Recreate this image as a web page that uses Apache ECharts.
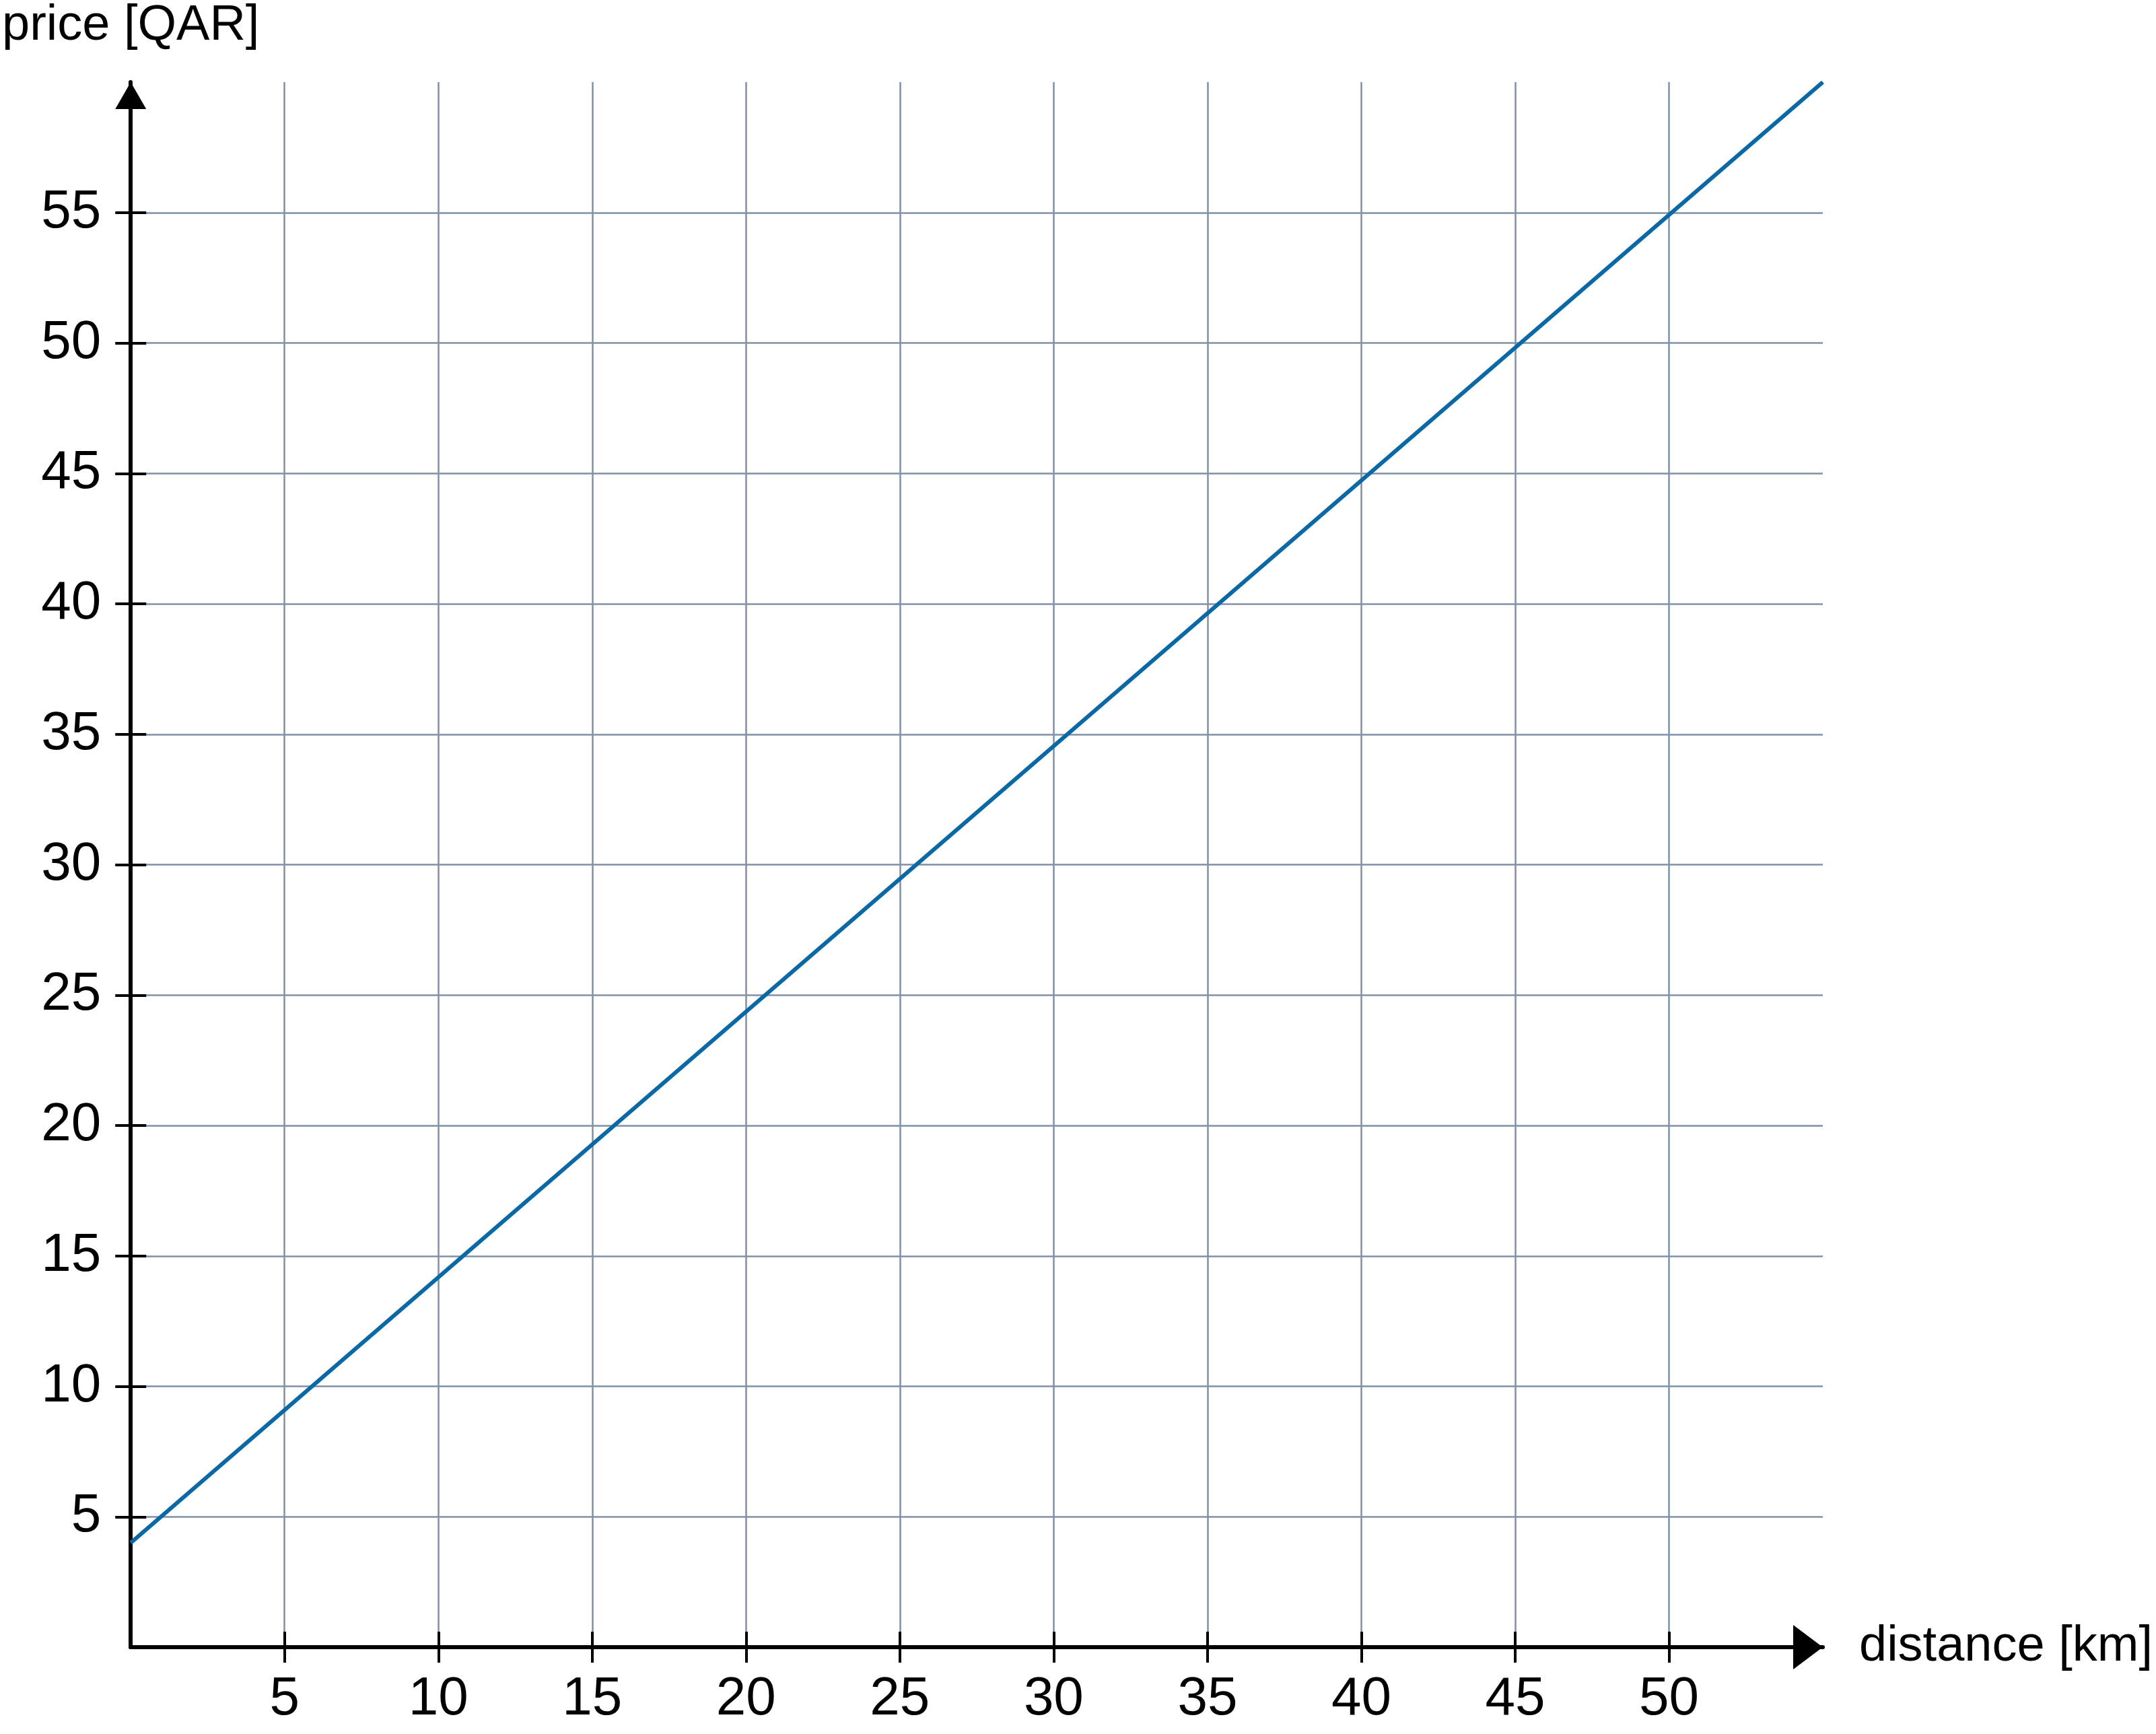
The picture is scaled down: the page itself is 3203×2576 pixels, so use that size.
<!DOCTYPE html>
<html>
<head>
<meta charset="utf-8">
<script src="https://cdn.jsdelivr.net/npm/echarts@6/dist/echarts.min.js"></script>
<style>
  html, body { margin: 0; padding: 0; background: #fff; }
  #chart { width: 3203px; height: 2576px; }
</style>
</head>
<body>
<div id="chart"></div>
<script>
// data
var distance = [0, 55];
var price = [4, 60];
var xTicks = [5, 10, 15, 20, 25, 30, 35, 40, 45, 50];
var yTicks = [5, 10, 15, 20, 25, 30, 35, 40, 45, 50, 55];

var font = '"Liberation Sans", Arial, sans-serif';
var gridColor = '#8091a7';

var chart = echarts.init(document.getElementById('chart'));

// main axis: line, arrow, outer ticks, labels, grid
function mainAxis(max, ticks, name, isX) {
  return {
    type: 'value',
    min: 0,
    max: max,
    interval: 5,
    position: isX ? 'bottom' : 'left',
    name: name,
    nameLocation: 'end',
    nameGap: isX ? 54 : 46,
    nameTextStyle: { fontFamily: font, fontSize: 74, color: '#000' },
    axisLine: {
      show: true,
      onZero: false,
      lineStyle: { color: '#000', width: 6 },
      symbol: ['none', 'triangle'],
      symbolSize: isX ? [66, 44] : [46, 40],
      symbolOffset: isX ? [0, -22] : [0, -20]
    },
    axisTick: {
      show: true,
      inside: false,
      length: 23,
      customValues: ticks,
      lineStyle: { color: '#000', width: 4 }
    },
    axisLabel: {
      show: true,
      customValues: ticks,
      margin: isX ? 38 : 44,
      fontFamily: font,
      fontSize: 80,
      color: '#000'
    },
    splitLine: { show: true, lineStyle: { color: gridColor, width: 2.5 } }
  };
}

// second axis goes to the opposite side (top / right) and is moved onto the
// main one with onZero, so its outward ticks give the inner half of the cross
function innerAxis(max, ticks) {
  return {
    type: 'value',
    min: 0,
    max: max,
    interval: 5,
    axisLine: { show: false, onZero: true, onZeroAxisIndex: 0 },
    axisTick: {
      show: true,
      inside: false,
      length: 23,
      customValues: ticks,
      lineStyle: { color: '#000', width: 4 }
    },
    axisLabel: { show: false },
    splitLine: { show: false }
  };
}

var option = {
  backgroundColor: '#fff',
  animation: false,
  grid: { left: 194, right: 495, top: 122, bottom: 129 },
  xAxis: [
    mainAxis(55, xTicks, 'distance [km]', true),
    innerAxis(55, xTicks)
  ],
  yAxis: [
    mainAxis(60, yTicks, 'price [QAR]', false),
    innerAxis(60, yTicks)
  ],
  series: [
    {
      type: 'line',
      data: distance.map(function (d, i) { return [d, price[i]]; }),
      showSymbol: false,
      lineStyle: { color: '#0a68a5', width: 6 },
      z: 3
    }
  ]
};
chart.setOption(option);
</script>
</body>
</html>
